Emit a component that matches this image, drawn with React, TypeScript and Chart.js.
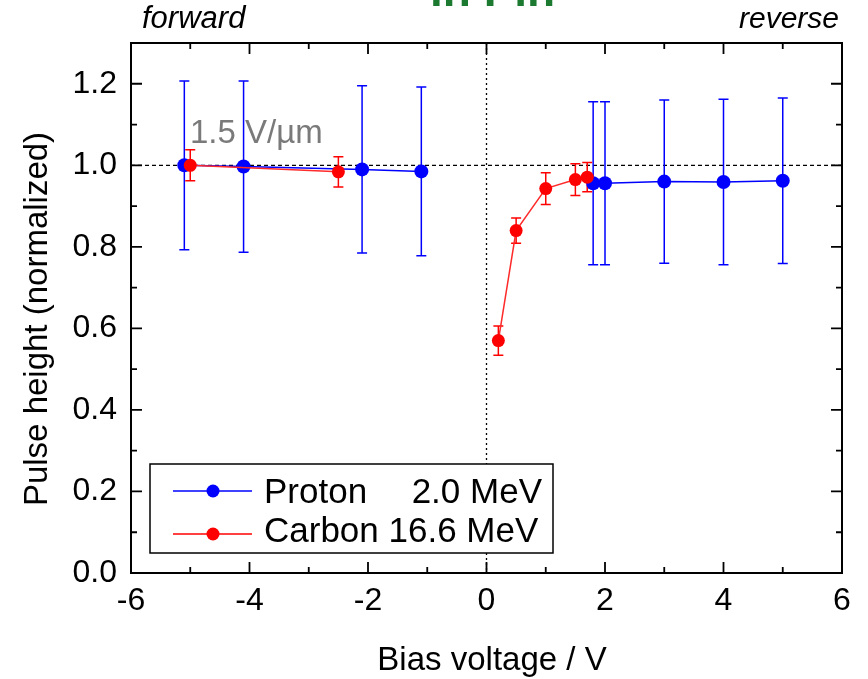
import React, { useEffect, useRef } from 'react';
import { Chart, registerables } from 'chart.js';

Chart.register(...registerables);

// ---- data ----
const protonX = [-5.1, -4.1, -2.1, -1.1, 1.8, 2.0, 3.0, 4.0, 5.0];
const protonY = [1.0, 0.997, 0.99, 0.985, 0.956, 0.956, 0.96, 0.959, 0.962];
const protonErr = [0.207, 0.21, 0.205, 0.207, 0.2, 0.2, 0.2, 0.203, 0.203];

const carbonX = [-5.0, -2.5, 0.2, 0.5, 1.0, 1.5, 1.7];
const carbonY = [1.0, 0.984, 0.57, 0.84, 0.943, 0.965, 0.971];
const carbonErr = [0.038, 0.037, 0.036, 0.031, 0.039, 0.039, 0.036];

const xTickValues = [-6, -4, -2, 0, 2, 4, 6];
const yTickValues = [0, 0.2, 0.4, 0.6, 0.8, 1.0, 1.2];

const FONT = '"Liberation Sans", Arial, Helvetica, sans-serif';
const BLUE = '#0000ff';
const RED = '#ff0000';

const breakAtZero = (color: string) => (ctx: any) =>
  ctx.p0.parsed.x < 0 && ctx.p1.parsed.x > 0 ? 'rgba(0,0,0,0)' : color;

export default function App() {
  const ref = useRef<HTMLCanvasElement>(null);

  useEffect(() => {
    const canvas = ref.current!;

    const errorBars = (chart: any, xs: number[], ys: number[], es: number[], color: string, cap: number) => {
      const ctx = chart.ctx;
      const sx = chart.scales.x;
      const sy = chart.scales.y;
      ctx.save();
      ctx.strokeStyle = color;
      ctx.lineWidth = 1.5;
      ctx.setLineDash([]);
      for (let i = 0; i < xs.length; i++) {
        const px = sx.getPixelForValue(xs[i]);
        const pt = sy.getPixelForValue(ys[i] + es[i]);
        const pb = sy.getPixelForValue(ys[i] - es[i]);
        ctx.beginPath();
        ctx.moveTo(px, pt);
        ctx.lineTo(px, pb);
        ctx.moveTo(px - cap, pt);
        ctx.lineTo(px + cap, pt);
        ctx.moveTo(px - cap, pb);
        ctx.lineTo(px + cap, pb);
        ctx.stroke();
      }
      ctx.restore();
    };

    const decor = {
      id: 'decor',
      beforeDatasetsDraw(chart: any) {
        const ctx = chart.ctx;
        const { left, right, top, bottom } = chart.chartArea;
        const sx = chart.scales.x;
        const sy = chart.scales.y;
        ctx.save();
        ctx.strokeStyle = '#000';
        ctx.lineWidth = 1.3;
        ctx.setLineDash([4, 3]);
        const y1 = sy.getPixelForValue(1.0);
        ctx.beginPath();
        ctx.moveTo(left, y1);
        ctx.lineTo(right, y1);
        ctx.stroke();
        ctx.setLineDash([2, 3]);
        const x0 = sx.getPixelForValue(0);
        ctx.beginPath();
        ctx.moveTo(x0, top);
        ctx.lineTo(x0, bottom);
        ctx.stroke();
        ctx.restore();

        errorBars(chart, protonX, protonY, protonErr, BLUE, 5);
        errorBars(chart, carbonX, carbonY, carbonErr, RED, 5);
      },
      afterDraw(chart: any) {
        const ctx = chart.ctx;
        const { left, right, top, bottom } = chart.chartArea;
        const sx = chart.scales.x;
        const sy = chart.scales.y;
        ctx.save();
        ctx.setLineDash([]);
        ctx.strokeStyle = '#000';
        ctx.lineWidth = 2;
        ctx.strokeRect(left, top, right - left, bottom - top);
        ctx.lineWidth = 1.8;
        ctx.beginPath();
        for (let v = -6; v <= 6; v++) {
          const len = v % 2 === 0 ? 11 : 6;
          const px = sx.getPixelForValue(v);
          ctx.moveTo(px, bottom);
          ctx.lineTo(px, bottom - len);
          ctx.moveTo(px, top);
          ctx.lineTo(px, top + len);
        }
        for (let i = 0; i <= 13; i++) {
          const len = i % 2 === 0 ? 11 : 6;
          const py = sy.getPixelForValue(i / 10);
          ctx.moveTo(left, py);
          ctx.lineTo(left + len, py);
          ctx.moveTo(right, py);
          ctx.lineTo(right - len, py);
        }
        ctx.stroke();

        // legend
        const lx = 150, ly = 464, lw = 403, lh = 89;
        ctx.fillStyle = '#fff';
        ctx.fillRect(lx, ly, lw, lh);
        ctx.strokeStyle = '#000';
        ctx.lineWidth = 1.5;
        ctx.strokeRect(lx, ly, lw, lh);
        const rows = [
          { color: BLUE, y: 491 },
          { color: RED, y: 534 },
        ];
        rows.forEach((r) => {
          ctx.strokeStyle = r.color;
          ctx.lineWidth = 1.5;
          ctx.beginPath();
          ctx.moveTo(173, r.y);
          ctx.lineTo(252, r.y);
          ctx.stroke();
          ctx.fillStyle = r.color;
          ctx.beginPath();
          ctx.arc(213, r.y, 6.5, 0, Math.PI * 2);
          ctx.fill();
        });
        ctx.fillStyle = '#000';
        ctx.font = `35px ${FONT}`;
        ctx.textBaseline = 'alphabetic';
        ctx.textAlign = 'left';
        ctx.fillText('Proton', 264, 503);
        ctx.fillText('Carbon 16.6 MeV', 264, 542);
        ctx.textAlign = 'right';
        ctx.fillText('2.0 MeV', 542, 503);

        // annotations
        ctx.textAlign = 'left';
        ctx.font = `italic 31px ${FONT}`;
        ctx.fillText('forward', 142, 28);
        ctx.textAlign = 'right';
        ctx.font = `italic 30px ${FONT}`;
        ctx.fillText('reverse', 839, 28);
        ctx.textAlign = 'left';
        ctx.fillStyle = '#7a7a7a';
        ctx.font = `33px ${FONT}`;
        ctx.fillText('1.5 V/\u00b5m', 190, 143);

        // cut-off green title
        ctx.fillStyle = '#1b7a30';
        ctx.font = `bold 46px ${FONT}`;
        ctx.fillText('in Pin', 430, 6);

        // axis titles
        ctx.fillStyle = '#000';
        ctx.font = `33px ${FONT}`;
        ctx.textAlign = 'center';
        ctx.fillText('Bias voltage / V', 492, 670);
        ctx.save();
        ctx.translate(47, 319);
        ctx.rotate(-Math.PI / 2);
        ctx.fillText('Pulse height (normalized)', 0, 0);
        ctx.restore();
        ctx.restore();
      },
    };

    const chart = new Chart(canvas, {
      type: 'scatter',
      data: {
        datasets: [
          {
            label: 'Carbon 16.6 MeV',
            data: carbonX.map((x, i) => ({ x, y: carbonY[i] })),
            showLine: true,
            borderColor: '#ff2a2a',
            borderWidth: 1.5,
            segment: { borderColor: breakAtZero('#ff2a2a') },
            pointRadius: 6.5,
            pointBackgroundColor: RED,
            pointBorderColor: RED,
            pointBorderWidth: 0,
          },
          {
            label: 'Proton 2.0 MeV',
            data: protonX.map((x, i) => ({ x, y: protonY[i] })),
            showLine: true,
            borderColor: BLUE,
            borderWidth: 1.5,
            segment: { borderColor: breakAtZero(BLUE) },
            pointRadius: 7,
            pointBackgroundColor: BLUE,
            pointBorderColor: BLUE,
            pointBorderWidth: 0,
          },
        ],
      },
      options: {
        responsive: false,
        animation: false,
        layout: { padding: { left: 0, right: 26, top: 43, bottom: 0 } },
        plugins: { legend: { display: false }, tooltip: { enabled: false }, title: { display: false } },
        scales: {
          x: {
            type: 'linear',
            min: -6,
            max: 6,
            grid: { display: false, drawTicks: false },
            border: { display: false },
            afterBuildTicks: (s: any) => {
              s.ticks = xTickValues.map((v) => ({ value: v }));
            },
            ticks: {
              font: { family: FONT, size: 32 },
              color: '#000',
              padding: 9,
              maxRotation: 0,
              autoSkip: false,
              callback: (v: any) => String(v),
            },
            afterFit: (s: any) => {
              s.height = 106;
            },
          },
          y: {
            type: 'linear',
            min: 0,
            max: 1.3,
            grid: { display: false, drawTicks: false },
            border: { display: false },
            afterBuildTicks: (s: any) => {
              s.ticks = yTickValues.map((v) => ({ value: v }));
            },
            ticks: {
              font: { family: FONT, size: 32 },
              color: '#000',
              padding: 14,
              autoSkip: false,
              callback: (v: any) => Number(v).toFixed(1),
            },
            afterFit: (s: any) => {
              s.width = 131;
            },
          },
        },
      },
      plugins: [decor],
    });

    return () => chart.destroy();
  }, []);

  return (
    <div style={{ position: 'absolute', left: 0, top: 0, width: 868, height: 679, background: '#fff' }}>
      <canvas ref={ref} width={868} height={679} style={{ display: 'block' }} />
    </div>
  );
}
